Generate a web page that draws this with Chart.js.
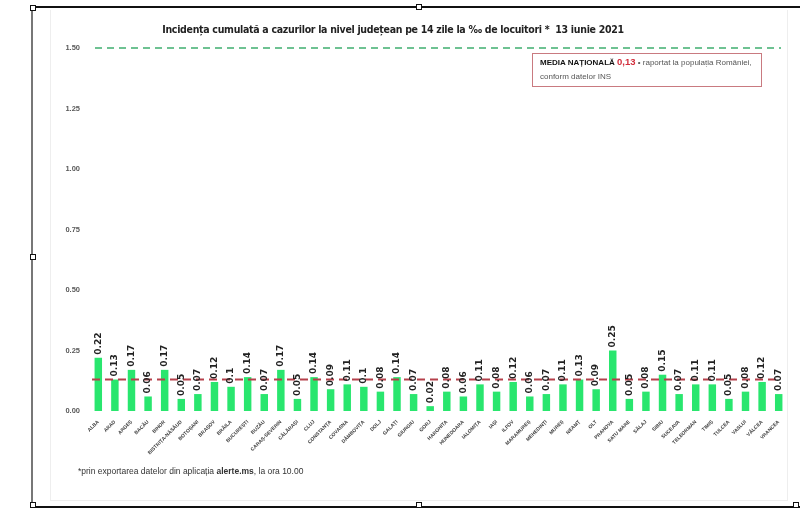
<!DOCTYPE html>
<html>
<head>
<meta charset="utf-8">
<script src="https://cdn.jsdelivr.net/npm/chart.js@4.4.1/dist/chart.umd.min.js"></script>
<style>
  html, body { margin: 0; padding: 0; background: #fff; }
  body { width: 800px; height: 509px; position: relative; overflow: hidden;
         font-family: "Liberation Sans", Arial, sans-serif; }
  #frameTop { position: absolute; left: 32px; top: 6px; width: 768px; height: 0; border-top: 2px solid #111; }
  #frameBottom { position: absolute; left: 32px; top: 506px; width: 768px; height: 0; border-top: 2px solid #111; }
  #frameLeft { position: absolute; left: 31px; top: 6px; width: 0; height: 502px; border-left: 2px solid #777; }
  #panel { position: absolute; left: 50px; top: 10px; width: 736px; height: 490px; border: 1px solid #eee; border-top: none; }
  .handle { position: absolute; width: 4px; height: 4px; border: 1px solid #111; background: #fff; }
  #chart { position: absolute; left: 0; top: 0; }
  #title { position: absolute; left: 0; width: 786px; top: 23px; text-align: center; letter-spacing: -0.3px;
           font: bold 10.5px "DejaVu Sans Condensed", "Liberation Sans", sans-serif; color: #222; }
  #media { position: absolute; left: 532px; top: 53px; width: 230px; height: 34px; border: 1px solid #c97a80;
           font-size: 8px; color: #555; padding: 1px 0 0 7px; box-sizing: border-box; line-height: 14px; }
  #media b { color: #111; }
  #media .red { color: #d22d3b; font-weight: bold; font-size: 9.5px; }
  #note { position: absolute; left: 78px; top: 466px; font-size: 8.5px; color: #333; }
</style>
</head>
<body>
<div id="panel"></div>
<canvas id="chart" width="800" height="509"></canvas>
<div id="frameTop"></div>
<div id="frameBottom"></div>
<div id="frameLeft"></div>
<div class="handle" style="left:30px;top:5px"></div>
<div class="handle" style="left:416px;top:4px"></div>
<div class="handle" style="left:30px;top:254px"></div>
<div class="handle" style="left:30px;top:502px"></div>
<div class="handle" style="left:416px;top:502px"></div>
<div class="handle" style="left:793px;top:502px"></div>
<div id="title">Incidența cumulată a cazurilor la nivel județean pe 14 zile la ‰ de locuitori *&nbsp; 13 iunie 2021</div>
<div id="media"><b>MEDIA NAȚIONALĂ</b> <span class="red">0,13</span> • raportat la populația României,<br>conform datelor INS</div>
<div id="note">*prin exportarea datelor din aplicația <b>alerte.ms</b>, la ora 10.00</div>
<script>
// judete
const counties = [
  "ALBA", "ARAD", "ARGEȘ", "BACĂU", "BIHOR", "BISTRIȚA-NĂSĂUD", "BOTOȘANI", "BRAȘOV",
  "BRĂILA", "BUCUREȘTI", "BUZĂU", "CARAȘ-SEVERIN", "CĂLĂRAȘI", "CLUJ", "CONSTANȚA",
  "COVASNA", "DÂMBOVIȚA", "DOLJ", "GALAȚI", "GIURGIU", "GORJ", "HARGHITA", "HUNEDOARA",
  "IALOMIȚA", "IAȘI", "ILFOV", "MARAMUREȘ", "MEHEDINȚI", "MUREȘ", "NEAMȚ", "OLT",
  "PRAHOVA", "SATU MARE", "SĂLAJ", "SIBIU", "SUCEAVA", "TELEORMAN", "TIMIȘ", "TULCEA",
  "VASLUI", "VÂLCEA", "VRANCEA"
];
const incidence = [
  0.22, 0.13, 0.17, 0.06, 0.17, 0.05, 0.07, 0.12, 0.1, 0.14, 0.07, 0.17, 0.05, 0.14,
  0.09, 0.11, 0.1, 0.08, 0.14, 0.07, 0.02, 0.08, 0.06, 0.11, 0.08, 0.12, 0.06, 0.07,
  0.11, 0.13, 0.09, 0.25, 0.05, 0.08, 0.15, 0.07, 0.11, 0.11, 0.05, 0.08, 0.12, 0.07
];
const yTicks = [0, 0.25, 0.5, 0.75, 1, 1.25, 1.5];
const nationalAvg = 0.13;
const threshold = 1.5;

const linesAndLabels = {
  id: "linesAndLabels",
  afterDatasetsDraw(chart) {
    const ctx = chart.ctx;
    const y = chart.scales.y;
    const area = chart.chartArea;

    // prag 1.5 (verde)
    ctx.save();
    ctx.strokeStyle = "#3fae6f";
    ctx.lineWidth = 1.5;
    ctx.setLineDash([7, 5]);
    ctx.beginPath();
    ctx.moveTo(area.left + 5, y.getPixelForValue(threshold));
    ctx.lineTo(area.right - 6, y.getPixelForValue(threshold));
    ctx.stroke();

    // media nationala (rosu)
    ctx.strokeStyle = "#b5404b";
    ctx.lineWidth = 2;
    ctx.setLineDash([8, 5]);
    ctx.beginPath();
    ctx.moveTo(area.left + 2, y.getPixelForValue(nationalAvg));
    ctx.lineTo(area.right - 6, y.getPixelForValue(nationalAvg));
    ctx.stroke();
    ctx.restore();

    // etichete valori
    const meta = chart.getDatasetMeta(0);
    ctx.save();
    ctx.fillStyle = "#222";
    ctx.font = "bold 9px 'DejaVu Sans', sans-serif";
    ctx.textAlign = "left";
    ctx.textBaseline = "middle";
    meta.data.forEach((bar, i) => {
      ctx.save();
      ctx.translate(bar.x, bar.y - 3);
      ctx.rotate(-Math.PI / 2);
      ctx.fillText(String(incidence[i]), 0, 0);
      ctx.restore();
    });
    ctx.restore();
  }
};

new Chart(document.getElementById("chart"), {
  type: "bar",
  data: {
    labels: counties,
    datasets: [{
      data: incidence,
      backgroundColor: "#29e66e",
      barPercentage: 0.45,
      categoryPercentage: 1
    }]
  },
  options: {
    responsive: false,
    animation: false,
    layout: { padding: { left: 60, right: 13, top: 48, bottom: 0 } },
    plugins: { legend: { display: false }, tooltip: { enabled: false } },
    scales: {
      x: {
        afterFit: (s) => { s.height = 98; },
        grid: { display: false },
        border: { display: false },
        ticks: {
          autoSkip: false,
          maxRotation: 45,
          minRotation: 45,
          padding: 0,
          color: "#404040",
          font: { size: 5, weight: "bold", family: "'Liberation Sans', sans-serif" }
        }
      },
      y: {
        min: 0,
        max: 1.5,
        afterFit: (s) => { s.width = 30; },
        afterBuildTicks: (s) => { s.ticks = yTicks.map((v) => ({ value: v })); },
        grid: { display: false },
        border: { display: false },
        ticks: {
          padding: 2,
          color: "#595959",
          callback: (v) => v.toFixed(2),
          font: { size: 7.5, weight: "bold", family: "'Liberation Sans', sans-serif" }
        }
      }
    }
  },
  plugins: [linesAndLabels]
});
</script>
</body>
</html>
